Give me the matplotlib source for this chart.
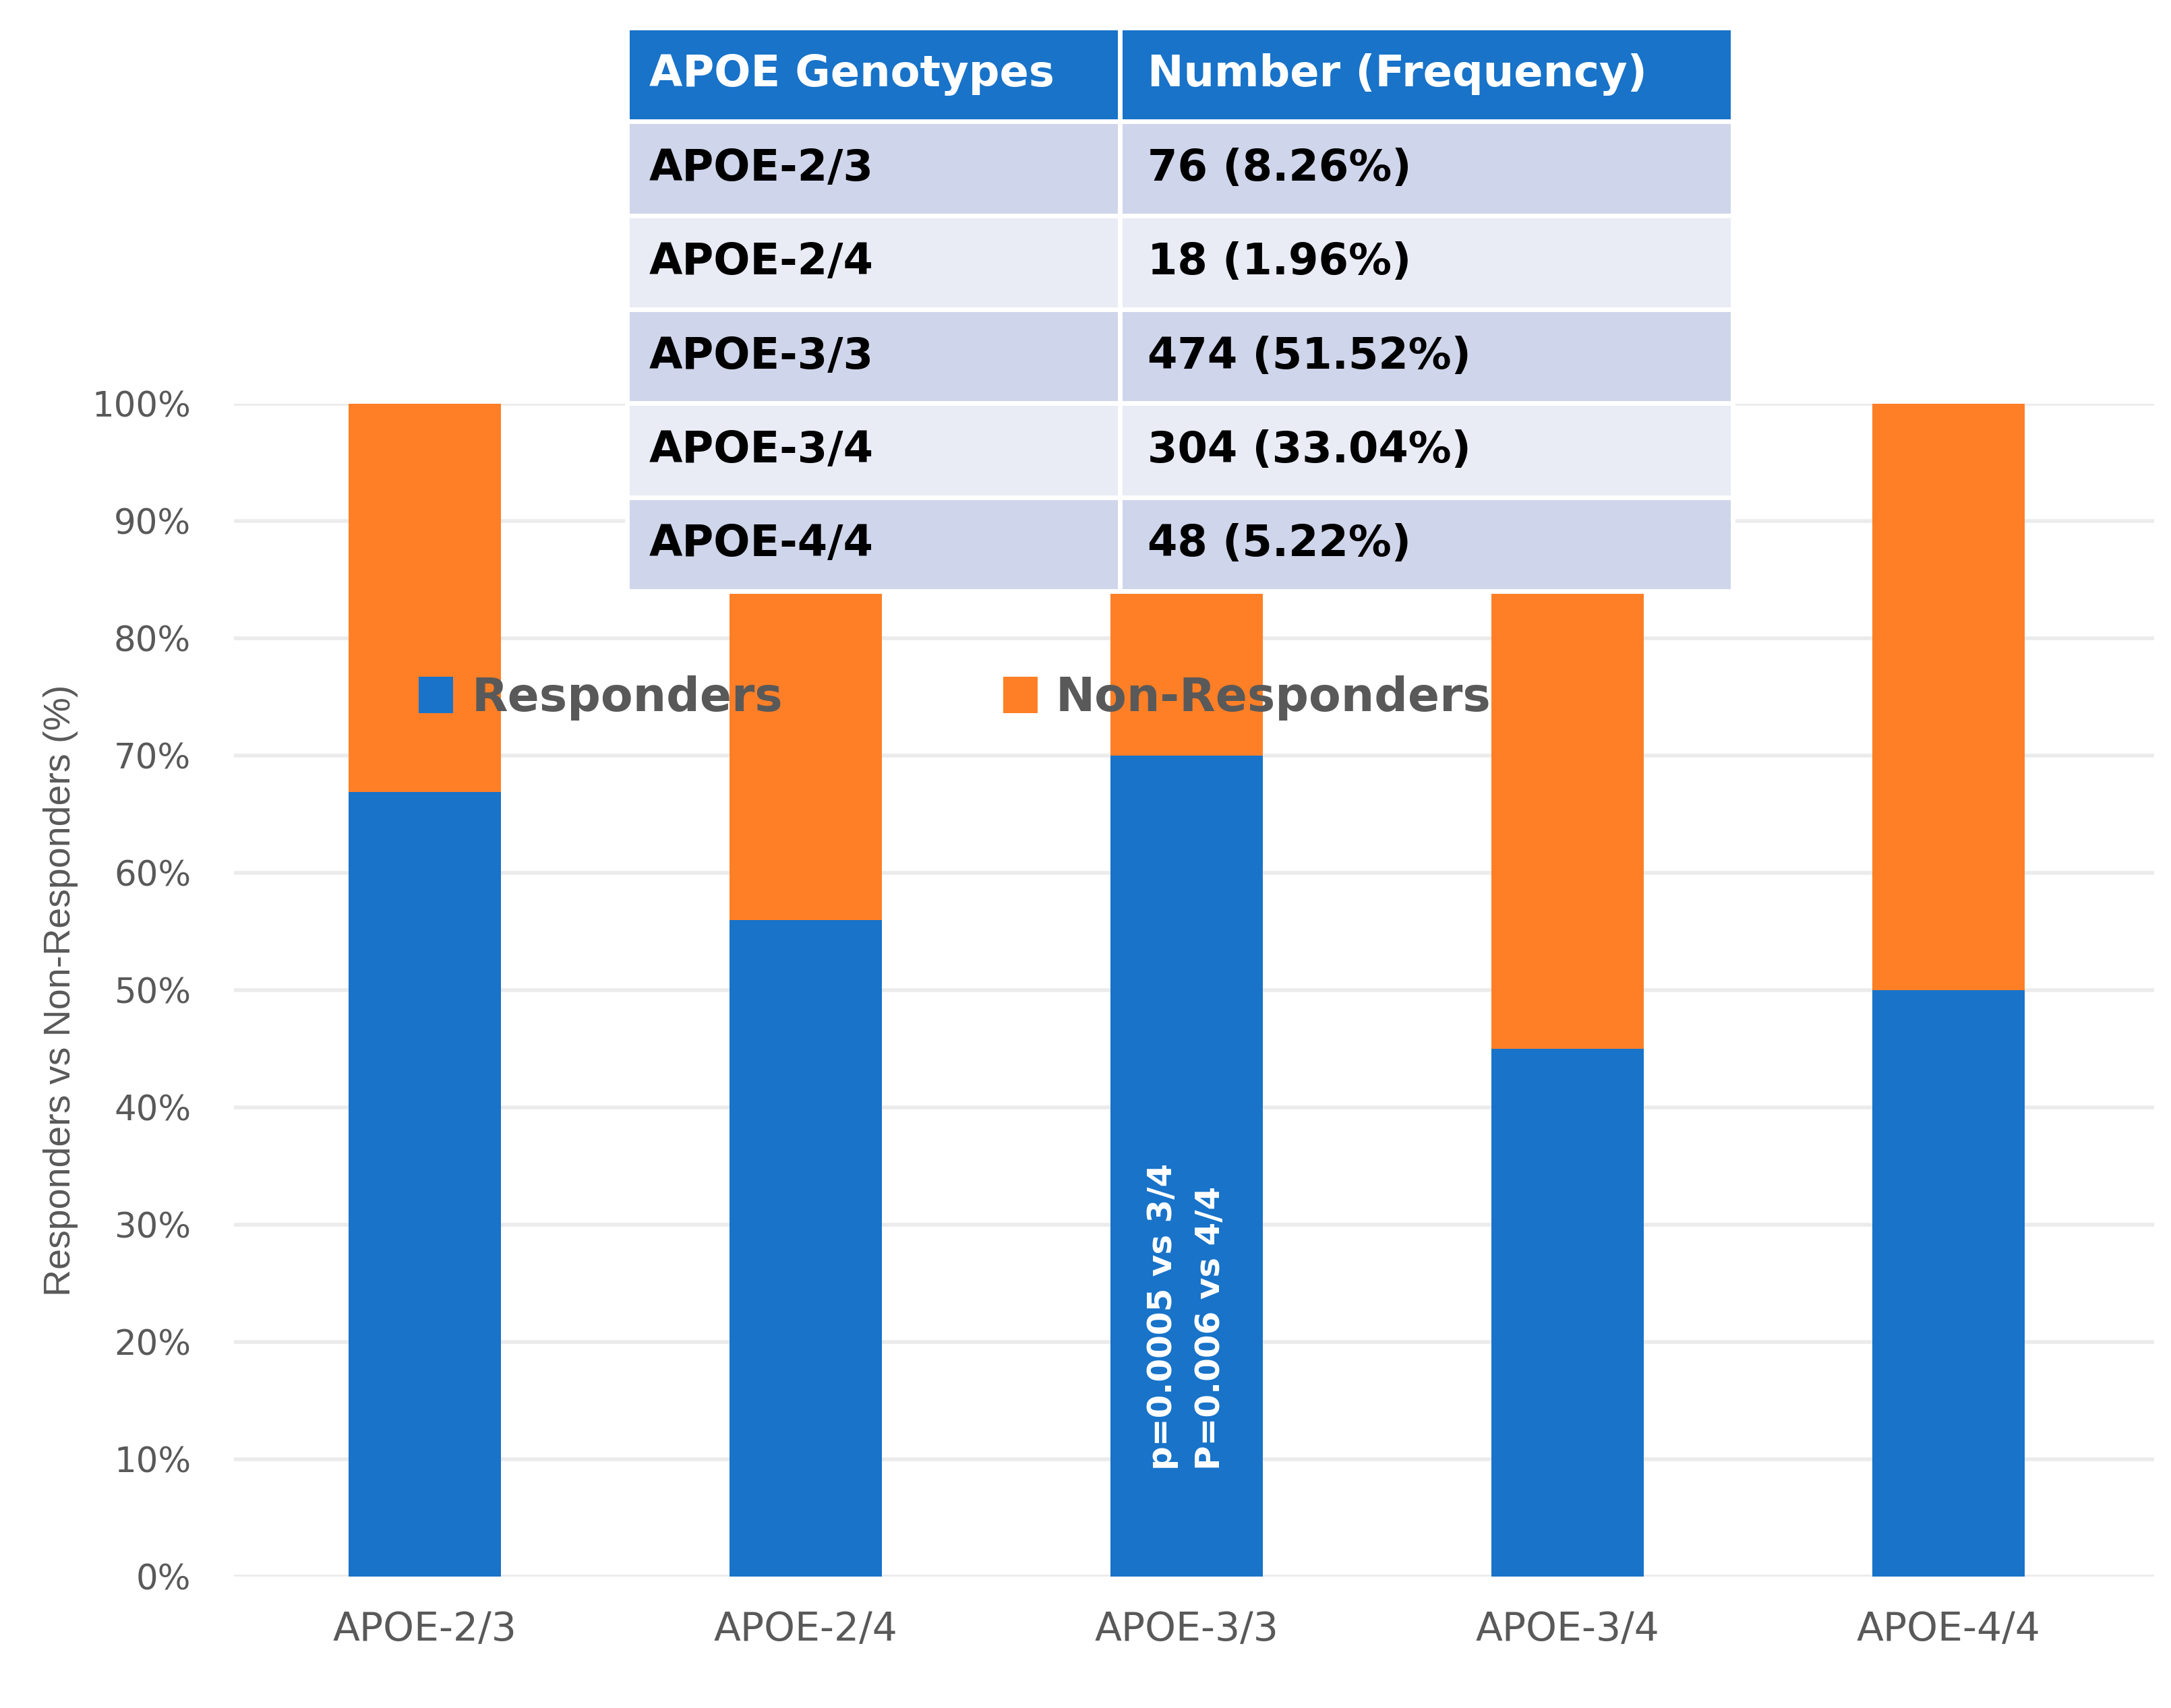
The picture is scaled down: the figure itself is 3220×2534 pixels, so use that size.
import matplotlib
matplotlib.use('Agg')
import matplotlib.pyplot as plt
import numpy as np
from matplotlib.ticker import PercentFormatter

genotypes = ['APOE-2/3', 'APOE-2/4', 'APOE-3/3', 'APOE-3/4', 'APOE-4/4']
responders = [66.9, 56.0, 70.0, 45.0, 50.0]
non_responders = [100 - v for v in responders]

table_header = ['APOE Genotypes', 'Number (Frequency)']
table_numbers = ['76 (8.26%)', '18 (1.96%)', '474 (51.52%)', '304 (33.04%)', '48 (5.22%)']

p_note = 'p=0.0005 vs 3/4\nP=0.006 vs 4/4'

BLUE = '#1873C9'
ORANGE = '#FF7F27'
GREY = '#595959'

fig = plt.figure(figsize=(16.1, 12.67), dpi=200)
ax = fig.add_axes([0.1078, 0.0770, 0.8845, 0.6866])

x = np.arange(len(genotypes))
b1 = ax.bar(x, responders, width=0.4, color=BLUE, linewidth=0, label='Responders', zorder=2)
b2 = ax.bar(x, non_responders, width=0.4, bottom=responders, color=ORANGE, linewidth=0,
            label='Non-Responders', zorder=2)

ax.set_ylim(0, 100)
ax.set_xlim(-0.5, 4.54)
ax.set_yticks(np.arange(0, 101, 10))
ax.yaxis.set_major_formatter(PercentFormatter(decimals=0))
ax.set_xticks(x)
ax.set_xticklabels(genotypes)
ax.tick_params(axis='y', length=0, pad=23, labelsize=18.5, labelcolor=GREY)
ax.tick_params(axis='x', length=0, pad=18, labelsize=21, labelcolor=GREY)
ax.grid(axis='y', color='#EBEBEB', linewidth=2.0, zorder=0)
ax.set_axisbelow(True)
for s in ax.spines.values():
    s.set_visible(False)
ax.set_ylabel('Responders vs Non-Responders (%)', fontsize=20, color=GREY,
              family=['Liberation Sans', 'DejaVu Sans'])
ax.yaxis.set_label_coords(-0.081, 0.5)

ax.text(2, 9.1, p_note, rotation=90, ha='center', va='bottom', multialignment='left',
        color='white', fontsize=18, fontweight='bold', linespacing=1.6, zorder=3)

leg = ax.legend(handles=[b1, b2], ncol=2, loc='center left', bbox_to_anchor=(0.0962, 0.749),
                frameon=False, borderpad=0, borderaxespad=0, handlelength=0.74, handleheight=0.83,
                handletextpad=0.39, columnspacing=4.7,
                prop={'size': 25, 'weight': 'bold'})
for t in leg.get_texts():
    t.set_color(GREY)

# genotype frequency table on top
tax = fig.add_axes([0.2888, 0.6539, 0.5093, 0.3299])
tax.axis('off')
cell_rows = [[g, n] for g, n in zip(genotypes, table_numbers)]
tab = tax.table(cellText=cell_rows, colLabels=table_header, cellLoc='left', colLoc='left',
                bbox=[0, 0, 1, 1], colWidths=[0.4457, 0.5543])
tab.auto_set_font_size(False)
tab.set_fontsize(23)
for (r, c), cell in tab.get_celld().items():
    cell.set_edgecolor('white')
    cell.set_linewidth(2.5)
    cell.PAD = 0.045
    cell.get_text().set_fontweight('bold')
    if r == 0:
        cell.set_facecolor('#1873C9')
        cell.get_text().set_color('white')
    else:
        cell.set_facecolor('#CFD5EA' if r % 2 == 1 else '#E9EBF5')
        cell.get_text().set_color('black')

fig.savefig('out.png', dpi=200, facecolor='white')
